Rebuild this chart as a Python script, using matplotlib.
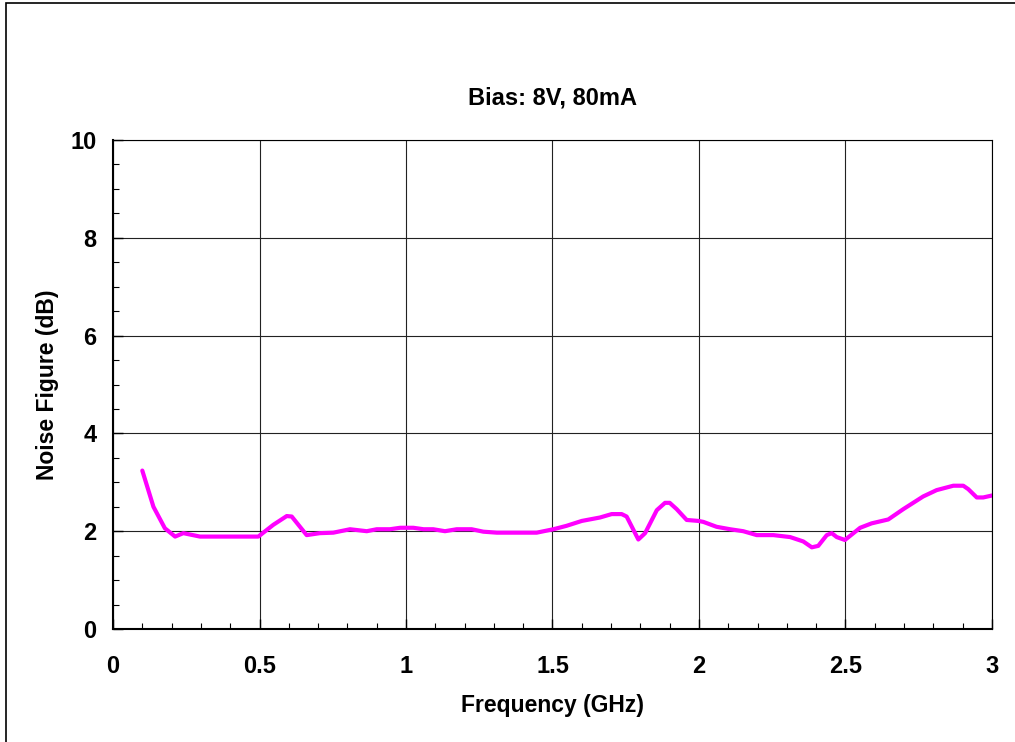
import matplotlib
matplotlib.use('Agg')
import matplotlib.pyplot as plt
from matplotlib.patches import Rectangle
from matplotlib.ticker import MultipleLocator

plt.rcParams['font.family'] = ['Liberation Sans', 'DejaVu Sans']

# Noise figure vs frequency
freq_ghz = [0.10, 0.138, 0.177, 0.212, 0.24, 0.297, 0.40, 0.496, 0.547, 0.593, 0.61,
            0.661, 0.706, 0.752, 0.809, 0.866, 0.90, 0.945, 0.98, 1.025, 1.06,
            1.093, 1.133, 1.173, 1.224, 1.264, 1.31, 1.38, 1.446, 1.503, 1.548,
            1.60, 1.662, 1.702, 1.736, 1.753, 1.793, 1.816, 1.856, 1.884, 1.90,
            1.924, 1.958, 1.998, 2.015, 2.06, 2.106, 2.151, 2.197, 2.254, 2.311,
            2.356, 2.385, 2.407, 2.436, 2.453, 2.47, 2.498, 2.55, 2.589, 2.646,
            2.697, 2.765, 2.811, 2.868, 2.902, 2.919, 2.948, 2.97, 3.0]
nf_db = [3.24, 2.50, 2.06, 1.89, 1.96, 1.89, 1.89, 1.89, 2.13, 2.31, 2.30,
         1.92, 1.96, 1.97, 2.04, 2.00, 2.04, 2.04, 2.07, 2.07, 2.04,
         2.04, 2.00, 2.04, 2.04, 1.99, 1.97, 1.97, 1.97, 2.04, 2.11,
         2.21, 2.28, 2.35, 2.35, 2.30, 1.83, 1.96, 2.43, 2.58, 2.58,
         2.45, 2.23, 2.21, 2.19, 2.09, 2.04, 2.00, 1.92, 1.92, 1.88,
         1.79, 1.67, 1.70, 1.92, 1.96, 1.88, 1.82, 2.07, 2.16, 2.24,
         2.45, 2.71, 2.84, 2.93, 2.93, 2.86, 2.69, 2.69, 2.73]

x_ticks = [0, 0.5, 1, 1.5, 2, 2.5, 3]
x_tick_labels = ['0', '0.5', '1', '1.5', '2', '2.5', '3']
y_ticks = [0, 2, 4, 6, 8, 10]

fig = plt.figure(figsize=(10.15, 7.42), dpi=100)
ax = fig.add_axes([113 / 1015, 113 / 742, 879 / 1015, 489 / 742])

# outer chart-area border
fig.patches.append(Rectangle((6 / 1015, -0.01), 1.02, 1 - 3 / 742 + 0.01,
                             transform=fig.transFigure, fill=False,
                             edgecolor='black', linewidth=1.2))

ax.plot(freq_ghz, nf_db, color='#FF00FF', linewidth=3, solid_joinstyle='round',
        solid_capstyle='round')

ax.set_xlim(0, 3)
ax.set_ylim(0, 10)
ax.set_xticks(x_ticks)
ax.set_xticklabels(x_tick_labels)
ax.set_yticks(y_ticks)
ax.xaxis.set_minor_locator(MultipleLocator(0.1))
ax.yaxis.set_minor_locator(MultipleLocator(0.5))
ax.grid(True, which='major', color='#222222', linewidth=0.8)
ax.set_axisbelow(True)

ax.tick_params(which='both', direction='in', top=False, right=False)
ax.tick_params(which='major', length=7, width=1)
ax.tick_params(which='minor', length=4, width=0.8)
ax.tick_params(axis='x', which='major', pad=19, labelsize=17)
ax.tick_params(axis='y', which='major', pad=12, labelsize=17)
for lbl in ax.get_xticklabels() + ax.get_yticklabels():
    lbl.set_fontweight('bold')

for side in ['left', 'bottom']:
    ax.spines[side].set_linewidth(1.5)
for side in ['top', 'right']:
    ax.spines[side].set_linewidth(0.8)

ax.set_title('Bias: 8V, 80mA', fontsize=17, fontweight='bold', pad=25.5)
ax.set_xlabel('Frequency (GHz)', fontsize=16.5, fontweight='bold', labelpad=11)
ax.set_ylabel('Noise Figure (dB)', fontsize=16.5, fontweight='bold', labelpad=8)

fig.savefig('out.png', dpi=100)
